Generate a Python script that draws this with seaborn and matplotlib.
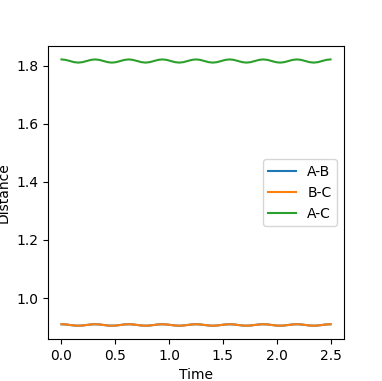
import numpy as np
import pandas as pd
import matplotlib
matplotlib.use("Agg")
import matplotlib.pyplot as plt
import seaborn as sns

# Time samples: 8 samples per oscillation period (period ~0.3125), 0 .. 2.5
time = [i * 0.0390625 for i in range(65)]

# one period of each series, repeated 8 times + final point
ac_period = [1.8210, 1.8194, 1.8155, 1.8116, 1.8100, 1.8116, 1.8155, 1.8194]
bc_period = [0.9100, 0.9093, 0.9075, 0.9057, 0.9050, 0.9057, 0.9075, 0.9093]
ab_period = [0.9100, 0.9093, 0.9075, 0.9057, 0.9050, 0.9057, 0.9075, 0.9093]

dist_ab = ab_period * 8 + [0.9100]
dist_bc = bc_period * 8 + [0.9100]
dist_ac = ac_period * 8 + [1.8210]

labels = ["A-B", "B-C", "A-C"]
colors = ["#1f77b4", "#ff7f0e", "#2ca02c"]

fig = plt.figure(figsize=(3.82, 3.81), dpi=100)
ax = fig.add_axes([0.1257, 0.1102, 0.7748, 0.7688])

for lab, vals, col in zip(labels, [dist_ab, dist_bc, dist_ac], colors):
    df = pd.DataFrame({"Time": time, "Distance": vals})
    sns.lineplot(data=df, x="Time", y="Distance", ax=ax, color=col, label=lab, linewidth=1.5)

ax.set_xlabel("Time")
ax.set_ylabel("Distance")
ax.legend(loc="center right")
fig.savefig("out.png", dpi=100)
